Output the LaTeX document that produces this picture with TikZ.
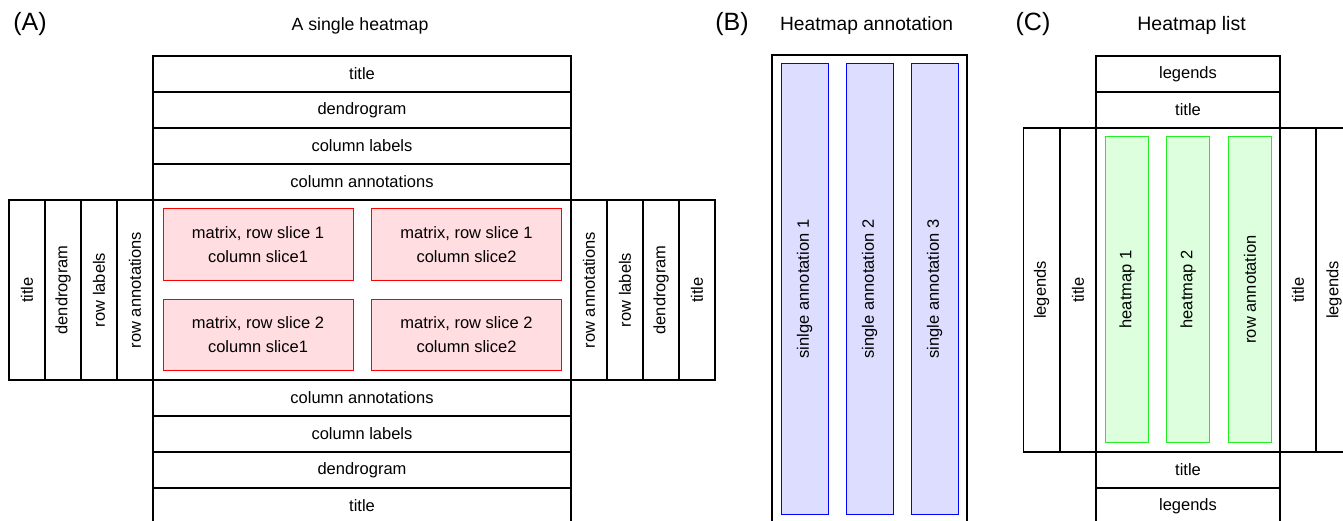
\documentclass[tikz,border=0pt]{standalone}
\usepackage{fontspec}
\setmainfont{Liberation Sans}
\usepackage{xcolor}
\usepackage{tikz}
\usetikzlibrary{positioning,calc}

\definecolor{slicefill}{HTML}{FFDDE1}
\definecolor{slicedraw}{HTML}{FF0000}
\definecolor{annofill}{HTML}{DDDDFF}
\definecolor{annodraw}{HTML}{0000FF}
\definecolor{listfill}{HTML}{DDFFDD}
\definecolor{listdraw}{HTML}{22EE22}

\newcommand{\txtsize}[1]{\fontsize{#1pt}{24pt}\selectfont}

\tikzset{
    cell/.style={draw, line width=1.3pt, inner sep=0pt, outer sep=0pt, font=\txtsize{16.5}},
    hcell/.style={cell, minimum height=36pt},
    vcell/.style={cell, rotate=90, minimum width=180pt, minimum height=36pt},
    slice/.style={draw=slicedraw, fill=slicefill, line width=1pt, align=center,
        minimum width=190pt, minimum height=71pt, inner sep=0pt, font=\txtsize{16.5}},
    annobar/.style={draw=annodraw, fill=annofill, line width=1pt, rotate=90,
        minimum width=450pt, minimum height=47pt, inner sep=0pt, font=\txtsize{16.5}},
    listbar/.style={draw=listdraw, fill=listfill, line width=1pt, rotate=90,
        minimum width=305pt, minimum height=43pt, inner sep=0pt, font=\txtsize{16.5}},
    panel/.style={inner sep=0pt, font=\txtsize{25}},
    heading/.style={inner sep=0pt, font=\txtsize{#1}}
}

\begin{document}
\begin{tikzpicture}[x=1pt, y=-1pt]
    \useasboundingbox (0,0) rectangle (1343,521);
    \clip (0,0) rectangle (1343,521);

    % (A) single heatmap
    \node[panel] (labA) at (30,24) {(A)};
    \node[heading=17.7] (headA) at (360,25.5) {A single heatmap};

    \node[hcell, minimum width=418pt] (atitle) at (362,74) {title};
    \node[hcell, minimum width=418pt] (adend) at (362,110) {dendrogram};
    \node[hcell, minimum width=418pt] (acollab) at (362,146) {column labels};
    \node[hcell, minimum width=418pt] (acolanno) at (362,182) {column annotations};

    \node[cell, minimum width=418pt, minimum height=180pt] (abody) at (362,290) {};

    \node[vcell] (ltitle) at (27,290) {title};
    \node[vcell] (ldend) at (63,290) {dendrogram};
    \node[vcell] (lrowlab) at (99,290) {row labels};
    \node[vcell] (lrowanno) at (135,290) {row annotations};

    \node[vcell] (rrowanno) at (589,290) {row annotations};
    \node[vcell] (rrowlab) at (625,290) {row labels};
    \node[vcell] (rdend) at (661,290) {dendrogram};
    \node[vcell] (rtitle) at (697,290) {title};

    \node[hcell, minimum width=418pt] (bcolanno) at (362,398) {column annotations};
    \node[hcell, minimum width=418pt] (bcollab) at (362,434) {column labels};
    \node[hcell, minimum width=418pt] (bdend) at (362,470) {dendrogram};
    \node[hcell, minimum width=418pt] (btitle) at (362,506) {title};

    % matrix slices
    \node[slice] (s11) at (258,244.5) {matrix, row slice 1\\column slice1};
    \node[slice] (s12) at (466.5,244.5) {matrix, row slice 1\\column slice2};
    \node[slice] (s21) at (258,334.5) {matrix, row slice 2\\column slice1};
    \node[slice] (s22) at (466.5,334.5) {matrix, row slice 2\\column slice2};

    % (B) heatmap annotation
    \node[panel] (labB) at (732,24) {(B)};
    \node[heading=19.2] (headB) at (866.5,25.5) {Heatmap annotation};

    \node[cell, minimum width=195pt, minimum height=485pt] (annobox) at (869.5,297.5) {};
    \node[annobar] (anno1) at (804.5,289) {sinlge annotation 1};
    \node[annobar] (anno2) at (869.5,289) {single annotation 2};
    \node[annobar] (anno3) at (934.5,289) {single annotation 3};

    % (C) heatmap list
    \node[panel] (labC) at (1033,24) {(C)};
    \node[heading=19.5] (headC) at (1191.5,25.5) {Heatmap list};

    \node[hcell, minimum width=184pt] (ctleg) at (1188,74) {legends};
    \node[hcell, minimum width=184pt] (cttitle) at (1188,110) {title};

    \node[cell, minimum width=184pt, minimum height=324pt] (cbody) at (1188,290) {};

    \node[vcell, minimum width=324pt] (clleg) at (1041.5,290) {legends};
    \node[vcell, minimum width=324pt] (cltitle) at (1078,290) {title};
    \node[vcell, minimum width=324pt] (crtitle) at (1298,290) {title};
    \node[vcell, minimum width=324pt] (crleg) at (1334,290) {legends};

    \node[hcell, minimum width=184pt] (cbtitle) at (1188,470) {title};
    \node[hcell, minimum width=184pt] (cbleg) at (1188,506) {legends};

    \node[listbar] (hm1) at (1127,289.5) {heatmap 1};
    \node[listbar] (hm2) at (1188,289.5) {heatmap 2};
    \node[listbar] (rowanno) at (1250,289.5) {row annotation};
\end{tikzpicture}
\end{document}
